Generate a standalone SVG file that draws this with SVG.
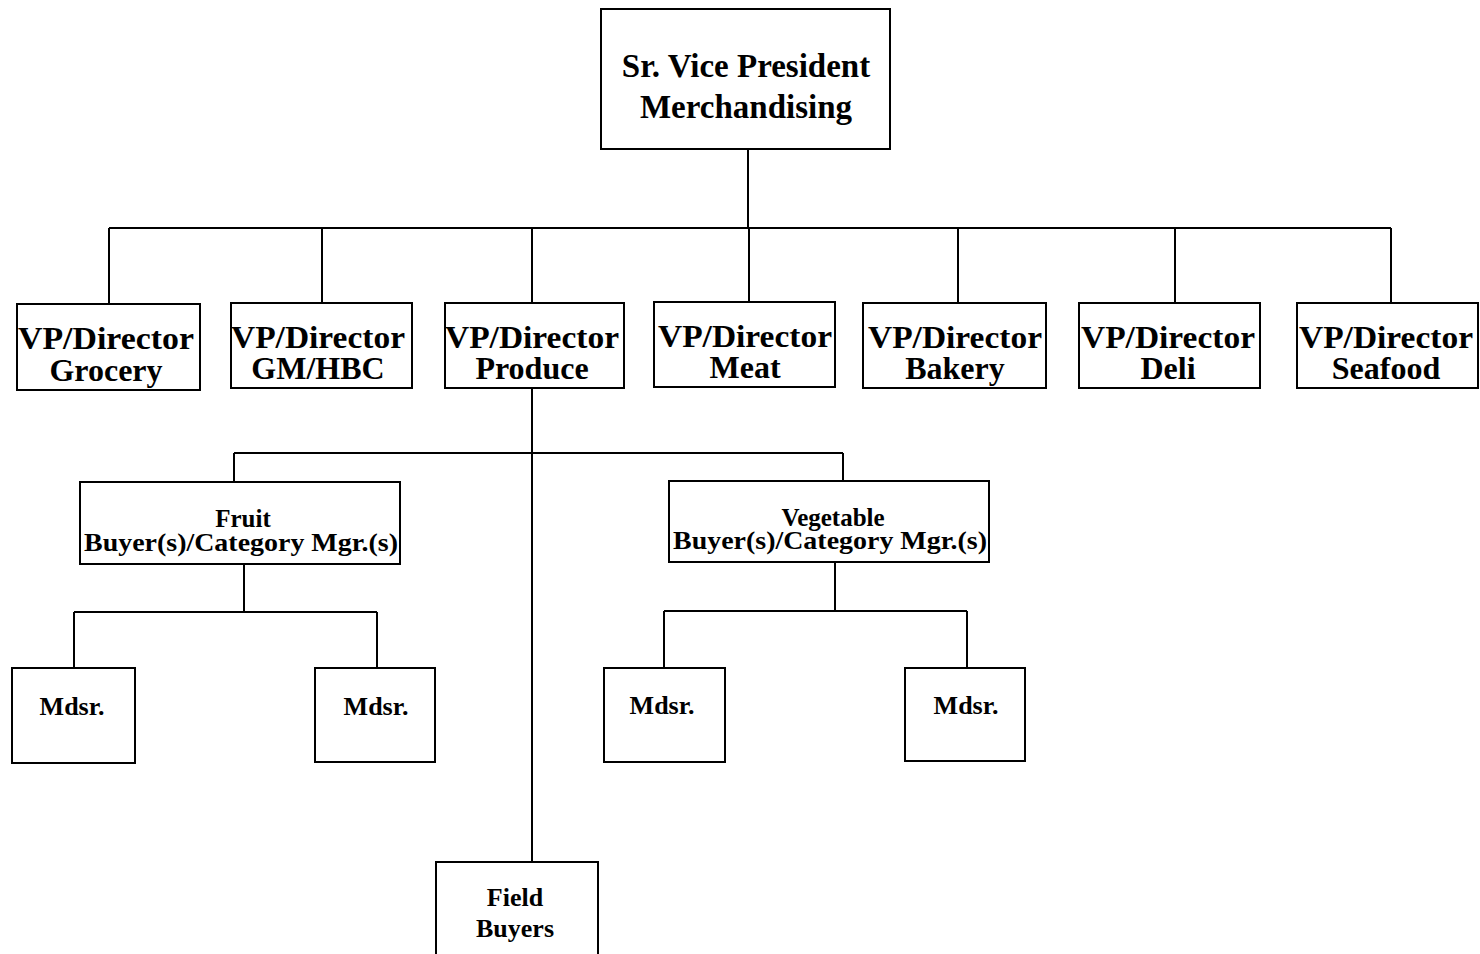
<svg xmlns="http://www.w3.org/2000/svg" width="1480" height="954" viewBox="0 0 1480 954">
<style>
.b{fill:#fff;stroke:#000;stroke-width:2}
.c{fill:none;stroke:#000;stroke-width:2}
text{font-family:"Liberation Serif","Times New Roman",serif;font-weight:bold;fill:#000;text-anchor:middle}
.t1{font-size:33px}
.t2{font-size:32px}
.t3{font-size:25px}
.t4{font-size:26px}
</style>
<rect width="1480" height="954" fill="#fff"/>
<g id="connectors">
<path class="c" d="M748 149V228M109 228H1391M109 228V304M322 228V303M532 228V303M749 228V302M958 228V303M1175 228V303M1391 228V303"/>
<path class="c" d="M532 388V862M234 453H843M234 453V482M843 453V481"/>
<path class="c" d="M244 564V612M74 612H377M74 612V668M377 612V668"/>
<path class="c" d="M835 562V611M664 611H967M664 611V668M967 611V668"/>
</g>
<g id="svp"><rect class="b" x="601" y="9" width="289" height="140"/><text class="t1" x="746" y="77">Sr. Vice President</text><text class="t1" x="746" y="118">Merchandising</text></g>
<g id="grocery"><rect class="b" x="17" y="304" width="183" height="86"/><text class="t2" x="106" y="349" textLength="176" lengthAdjust="spacingAndGlyphs">VP/Director</text><text class="t2" x="106" y="381">Grocery</text></g>
<g id="gmhbc"><rect class="b" x="231" y="303" width="181" height="85"/><text class="t2" x="318" y="348" textLength="174" lengthAdjust="spacingAndGlyphs">VP/Director</text><text class="t2" x="318" y="379">GM/HBC</text></g>
<g id="produce"><rect class="b" x="445" y="303" width="179" height="85"/><text class="t2" x="532" y="348" textLength="174" lengthAdjust="spacingAndGlyphs">VP/Director</text><text class="t2" x="532" y="379">Produce</text></g>
<g id="meat"><rect class="b" x="654" y="302" width="181" height="85"/><text class="t2" x="745" y="347" textLength="174" lengthAdjust="spacingAndGlyphs">VP/Director</text><text class="t2" x="745" y="378">Meat</text></g>
<g id="bakery"><rect class="b" x="863" y="303" width="183" height="85"/><text class="t2" x="955" y="348" textLength="174" lengthAdjust="spacingAndGlyphs">VP/Director</text><text class="t2" x="955" y="379">Bakery</text></g>
<g id="deli"><rect class="b" x="1079" y="303" width="181" height="85"/><text class="t2" x="1168" y="348" textLength="174" lengthAdjust="spacingAndGlyphs">VP/Director</text><text class="t2" x="1168" y="379">Deli</text></g>
<g id="seafood"><rect class="b" x="1297" y="303" width="181" height="85"/><text class="t2" x="1386" y="348" textLength="174" lengthAdjust="spacingAndGlyphs">VP/Director</text><text class="t2" x="1386" y="379">Seafood</text></g>
<g id="fruit"><rect class="b" x="80" y="482" width="320" height="82"/><text class="t3" x="243" y="527">Fruit</text><text class="t3" x="241" y="551" textLength="314" lengthAdjust="spacingAndGlyphs">Buyer(s)/Category Mgr.(s)</text></g>
<g id="vegetable"><rect class="b" x="669" y="481" width="320" height="81"/><text class="t3" x="833" y="526">Vegetable</text><text class="t3" x="830" y="549" textLength="314" lengthAdjust="spacingAndGlyphs">Buyer(s)/Category Mgr.(s)</text></g>
<g id="mdsr1"><rect class="b" x="12" y="668" width="123" height="95"/><text class="t4" x="72" y="715">Mdsr.</text></g>
<g id="mdsr2"><rect class="b" x="315" y="668" width="120" height="94"/><text class="t4" x="376" y="715">Mdsr.</text></g>
<g id="mdsr3"><rect class="b" x="604" y="668" width="121" height="94"/><text class="t4" x="662" y="714">Mdsr.</text></g>
<g id="mdsr4"><rect class="b" x="905" y="668" width="120" height="93"/><text class="t4" x="966" y="714">Mdsr.</text></g>
<g id="field"><rect class="b" x="436" y="862" width="162" height="100"/><text class="t4" x="515" y="906">Field</text><text class="t4" x="515" y="937">Buyers</text></g>
</svg>
